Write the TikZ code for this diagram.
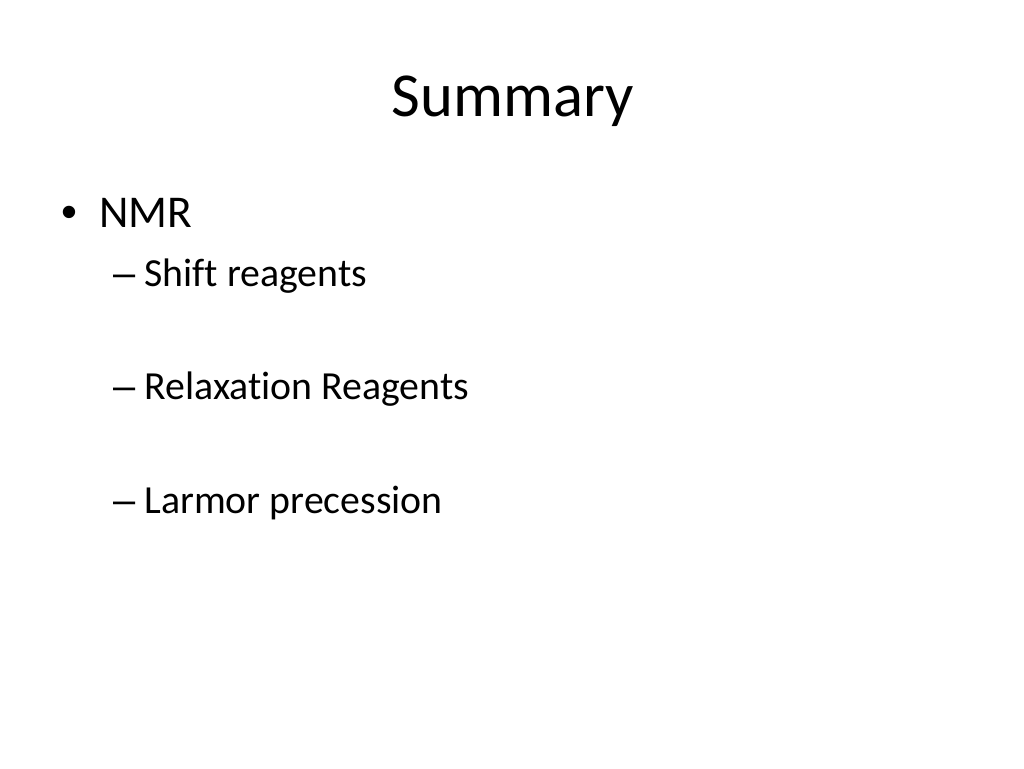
\documentclass[tikz,border=0pt]{standalone}
\usepackage{fontspec}
\setmainfont{Carlito}[Ligatures={NoCommon,NoRequired}]
\newfontfamily\bulletfont{Liberation Sans}
\begin{document}
\begin{tikzpicture}[x=1pt,y=-1pt,
  txt/.style={inner sep=0pt, outer sep=0pt, anchor=base west, text=black},
  titlefont/.style={font=\fontsize{62.6}{70}\selectfont},
  lvlone/.style={txt, font=\fontsize{45.5}{52}\selectfont},
  lvltwo/.style={txt, font=\fontsize{39.8}{46}\selectfont},
  mark1/.style={txt, font=\bulletfont\fontsize{45.5}{52}\selectfont},
  mark2/.style={txt, font=\bulletfont\fontsize{39.8}{46}\selectfont}]
\useasboundingbox[fill=white] (0,0) rectangle (1024,768);
\node[txt, titlefont, anchor=base] (title) at (513,116) {Summary};
\node[mark1] (b1) at (61,227) {•};
\node[lvlone] (nmr) at (99,227) {NMR};
\node[mark2] (d1) at (113,286) {–};
\node[lvltwo] (s1) at (144.5,286) {Shift reagents};
\node[mark2] (d2) at (113,399) {–};
\node[lvltwo] (s2) at (144.5,399) {Relaxation Reagents};
\node[mark2] (d3) at (113,513) {–};
\node[lvltwo] (s3) at (144.5,513) {Larmor precession};
\end{tikzpicture}
\end{document}
